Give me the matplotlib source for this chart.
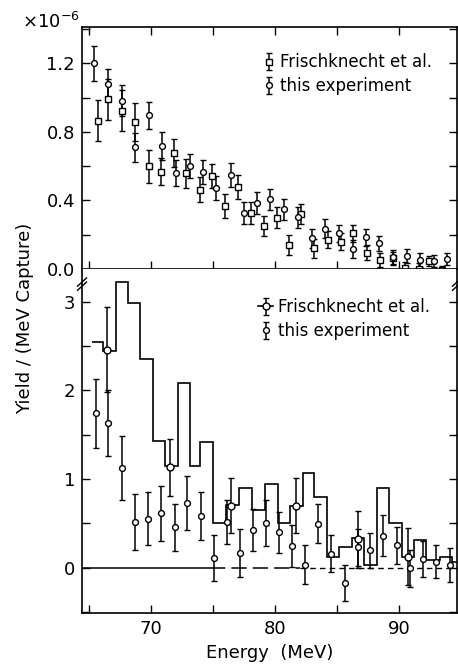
import matplotlib
matplotlib.use("Agg")
import matplotlib.pyplot as plt
import numpy as np
from matplotlib.ticker import MultipleLocator

# ---- top panel: yield in units of 1e-6 ----
frisch_top_e = [65.7, 66.5, 67.66, 68.73, 69.83, 70.82, 71.87, 72.86, 73.94, 74.93,
                75.95, 77.02, 78.1, 79.12, 80.16, 81.13, 82.12, 83.2, 84.27, 85.34,
                86.28, 87.44, 88.48, 89.5, 90.52, 91.65, 92.45, 93.48]
frisch_top_y = [0.866, 0.99, 0.923, 0.858, 0.60, 0.568, 0.677, 0.56, 0.463, 0.545,
                0.368, 0.477, 0.329, 0.251, 0.30, 0.14, 0.321, 0.121, 0.172, 0.16,
                0.208, 0.095, 0.053, 0.062, 0.004, 0.0, 0.048, -0.006]
frisch_top_err = [0.12, 0.12, 0.12, 0.11, 0.095, 0.08, 0.08, 0.085, 0.073, 0.07,
                  0.07, 0.07, 0.065, 0.06, 0.06, 0.06, 0.06, 0.055, 0.05, 0.05,
                  0.05, 0.045, 0.04, 0.04, 0.035, 0.035, 0.03, 0.025]

exp_top_e = [65.4, 66.5, 67.66, 68.73, 69.83, 70.93, 72.0, 73.13, 74.24, 75.28,
             76.43, 77.48, 78.55, 79.65, 80.78, 81.85, 82.98, 84.06, 85.15, 86.28,
             87.36, 88.43, 89.5, 90.63, 91.7, 92.86, 93.93]
exp_top_y = [1.20, 1.078, 0.983, 0.712, 0.897, 0.718, 0.56, 0.60, 0.568, 0.471,
             0.549, 0.329, 0.387, 0.407, 0.348, 0.302, 0.179, 0.236, 0.208, 0.117,
             0.185, 0.15, 0.07, 0.076, 0.053, 0.048, 0.057]
exp_top_err = [0.10, 0.09, 0.09, 0.085, 0.08, 0.08, 0.075, 0.07, 0.07, 0.07,
               0.07, 0.065, 0.065, 0.06, 0.06, 0.06, 0.055, 0.055, 0.05, 0.05,
               0.05, 0.045, 0.04, 0.04, 0.04, 0.035, 0.035]

# ---- bottom panel ----
hist_edges = [65.27, 66.1, 67.15, 68.17, 69.1, 70.18, 71.15, 72.15, 73.13, 74.0,
              75.0, 76.03, 77.1, 78.18, 79.17, 80.24, 81.24, 82.31, 83.2, 84.2,
              85.21, 86.23, 87.22, 88.21, 89.23, 90.25, 91.24, 92.23, 93.3, 94.32, 94.8]
hist_vals = [2.55, 2.45, 3.22, 2.99, 2.36, 1.435, 1.15, 2.08, 1.15, 1.42,
             0.50, 0.71, 0.90, 0.655, 0.947, 0.51, 0.70, 1.067, 0.80, 0.127,
             0.24, 0.335, 0.034, 0.90, 0.50, 0.127, 0.316, 0.09, 0.127, 0.07]

frisch_bot_e = [66.47, 71.52, 76.43, 81.67, 86.68, 90.71]
frisch_bot_y = [2.46, 1.135, 0.70, 0.70, 0.32, 0.127]
frisch_bot_err = [0.48, 0.32, 0.31, 0.31, 0.32, 0.32]

exp_bot_e = [65.54, 66.56, 67.63, 68.7, 69.77, 70.85, 71.92, 72.95, 74.02, 75.09,
             76.14, 77.21, 78.23, 79.25, 80.32, 81.4, 82.47, 83.46, 84.54, 85.67,
             86.68, 87.7, 88.75, 89.82, 90.93, 91.97, 93.04, 94.12]
exp_bot_y = [1.744, 1.63, 1.13, 0.515, 0.552, 0.617, 0.455, 0.73, 0.58, 0.109,
             0.515, 0.165, 0.428, 0.504, 0.402, 0.248, 0.034, 0.496, 0.158, -0.173,
             0.233, 0.195, 0.36, 0.252, -0.005, 0.1, 0.07, 0.034]
exp_bot_err = [0.39, 0.37, 0.36, 0.32, 0.30, 0.31, 0.27, 0.30, 0.27, 0.26,
               0.25, 0.27, 0.24, 0.26, 0.23, 0.24, 0.22, 0.22, 0.21, 0.20,
               0.21, 0.20, 0.23, 0.21, 0.21, 0.20, 0.19, 0.19]

plt.rcParams['font.family'] = ['DejaVu Sans']
W, H = 458, 670
fig = plt.figure(figsize=(W / 100, H / 100), dpi=100)

left, right = 82 / W, 457 / W
y_top, y_mid, y_bot = 1 - 27 / H, 1 - 269 / H, 1 - 613 / H
ax1 = fig.add_axes([left, y_mid, right - left, y_top - y_mid])
ax2 = fig.add_axes([left, y_bot, right - left, y_mid - y_bot])

eb = dict(color='black', elinewidth=1.1, capsize=2.0, capthick=1.1,
          mfc='white', mec='black', mew=1.0, linestyle='none')

h1 = ax1.errorbar(frisch_top_e, frisch_top_y, yerr=frisch_top_err, fmt='s', ms=4.2,
                  label='Frischknecht et al.', **eb)
h2 = ax1.errorbar(exp_top_e, exp_top_y, yerr=exp_top_err, fmt='o', ms=4.2,
                  label='this experiment', **eb)
ax1.set_xlim(64.44, 94.7)
ax1.set_ylim(0, 1.413)
ax1.yaxis.set_major_locator(MultipleLocator(0.4))
ax1.yaxis.set_minor_locator(MultipleLocator(0.2))
ax1.set_yticks([0.0, 0.4, 0.8, 1.2])
ax1.set_yticklabels(['0.0', '0.4', '0.8', '1.2'])
ax1.xaxis.set_major_locator(MultipleLocator(5))
ax1.tick_params(labelbottom=False)
ax1.legend(handles=[h1, h2], loc='upper left', bbox_to_anchor=(256 / W, 1 - 45 / H),
           bbox_transform=fig.transFigure, frameon=False, fontsize=12,
           handlelength=0.6, handletextpad=0.35, labelspacing=0.35, borderpad=0)

# bottom panel
ax2.stairs(hist_vals, hist_edges, baseline=None, color='black', lw=1.2)
h3 = ax2.errorbar(frisch_bot_e, frisch_bot_y, yerr=frisch_bot_err, fmt='o', ms=5, **eb)
h4 = ax2.errorbar(exp_bot_e, exp_bot_y, yerr=exp_bot_err, fmt='o', ms=4.2, **eb)
ax2.hlines(0, 64.44, 74.8, color='black', lw=1.1)
ax2.hlines(0, 74.8, 82.0, color='black', lw=1.1, linestyles=(0, (10, 4)))
ax2.hlines(0, 82.0, 94.7, color='black', lw=1.0, linestyles=(0, (4, 3)))
ax2.set_xlim(64.44, 94.7)
ax2.set_ylim(-0.51, 3.37)
ax2.yaxis.set_major_locator(MultipleLocator(1))
ax2.yaxis.set_minor_locator(MultipleLocator(0.5))
ax2.xaxis.set_major_locator(MultipleLocator(10))
ax2.xaxis.set_minor_locator(MultipleLocator(5))
ax2.spines['top'].set_visible(False)
ax2.set_xlabel('Energy  (MeV)', fontsize=13, labelpad=4)

step_handle = plt.Line2D([], [], color='black', lw=1.2)
ax2.legend(handles=[(step_handle, h3), h4], labels=['Frischknecht et al.', 'this experiment'],
           loc='upper left', bbox_to_anchor=(250 / W, 1 - 290 / H),
           bbox_transform=fig.transFigure, frameon=False, fontsize=12,
           handlelength=0.9, handletextpad=0.3, labelspacing=0.35, borderpad=0)

for ax in (ax1, ax2):
    ax.tick_params(which='both', direction='in', length=6, width=1.0,
                   top=True, right=True, labelsize=13, pad=5)
    for s in ax.spines.values():
        s.set_linewidth(1.2)
ax2.tick_params(which='both', top=False)

# axis break marks on the spines
for xa in (0, 1):
    for yc in (0.950, 0.962):
        ax2.plot([xa - 0.012, xa + 0.012], [yc - 0.012, yc + 0.012], color='black',
                 lw=1.0, transform=ax2.transAxes, clip_on=False)

fig.text(25 / W, 1 - 318 / H, 'Yield / (MeV Capture)', rotation=90, fontsize=13,
         ha='center', va='center')
fig.text(22 / W, 1 - 22 / H, r'$\times10^{-6}$', fontsize=13, ha='left', va='center')

fig.savefig('out.png', dpi=100)
